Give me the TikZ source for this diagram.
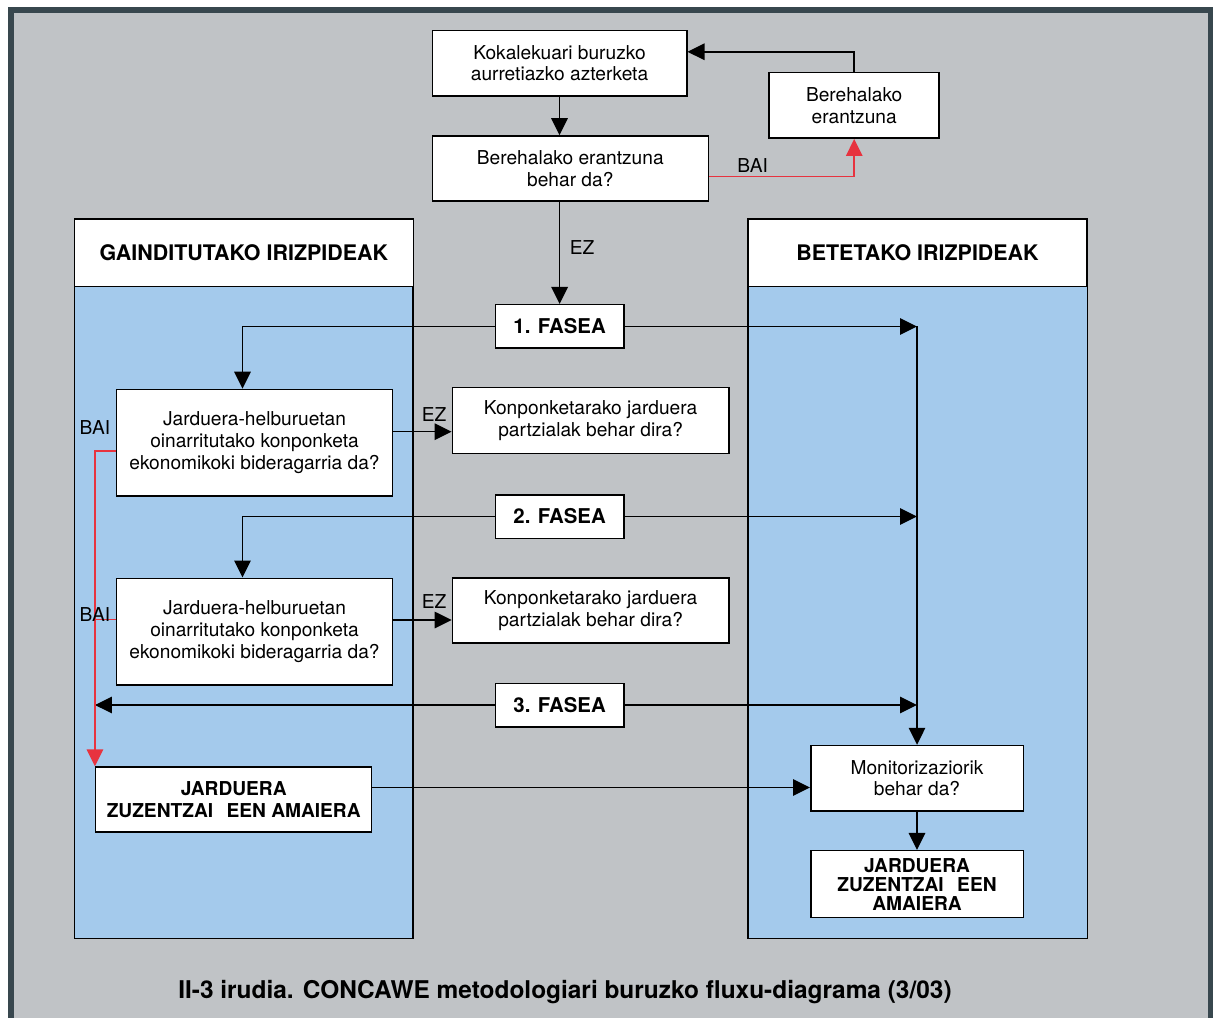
\documentclass[tikz,border=0pt]{standalone}
\usepackage{fontspec}
\setmainfont{TeX Gyre Heros}
\usetikzlibrary{arrows.meta}

\definecolor{bggray}{RGB}{192,195,198}
\definecolor{framegray}{RGB}{56,71,78}
\definecolor{laneblue}{RGB}{164,202,236}
\definecolor{yesred}{RGB}{231,51,63}

\begin{document}
\begin{tikzpicture}[
				x=0.2mm, y=-0.2mm,
				box/.style={
					draw,
					fill=white,
					line width=0.3mm,
					align=center,
					inner sep=0pt,
					font=\fontsize{10.9}{12.3}\selectfont
				},
				phase/.style={box, minimum width=25.7mm, minimum height=8.7mm,
					font=\fontsize{11.6}{13}\selectfont\bfseries},
				endbox/.style={box, font=\fontsize{10.9}{12.5}\selectfont\bfseries},
				header/.style={box, minimum width=67.8mm, minimum height=13.5mm,
					font=\fontsize{12.2}{14}\selectfont\bfseries},
				lbl/.style={text=black, inner sep=0pt, font=\fontsize{10.9}{12.3}\selectfont},
				flow/.style={line width=0.3mm, -{Triangle[length=3.4mm,width=3.3mm]}},
				redline/.style={line width=0.3mm, draw=yesred},
				yes/.style={redline, -{Triangle[length=3.4mm,width=3.3mm]}}
				]
				% sheet and frame
				\useasboundingbox (0,0) rectangle (1213,1018);
				\fill[white] (0,0) rectangle (1213,1018);
				\fill[bggray] (11,10.3) rectangle (1211,1018);
				\draw[framegray, line width=1.2mm, line join=miter] (11,1018) -- (11,10.3) -- (1211,10.3) -- (1211,1018);
				
				% the two lanes
				\draw[fill=laneblue, line width=0.3mm] (74.5,219.5) rectangle (413,938.3);
				\draw[fill=laneblue, line width=0.3mm] (747.8,219.5) rectangle (1087.3,938.3);
				\node[header] (leftHead) at (243.8,253) {GAINDITUTAKO IRIZPIDEAK};
				\node[header] (rightHead) at (917.5,253) {BETETAKO IRIZPIDEAK};
				
				\node[box, minimum width=50.9mm, minimum height=13.1mm] (kokalek) at (559.5,63.3) {Kokalekuari buruzko\\aurretiazko azterketa};
				\node[box, minimum width=34mm, minimum height=13.1mm] (berehal) at (854.2,105.5) {Berehalako\\erantzuna};
				\node[box, minimum width=55.2mm, minimum height=13mm] (galdera) at (570.3,168.5) {Berehalako erantzuna\\behar da?};
				
				\node[phase] (fase1) at (559.6,326.5) {1. FASEA};
				\node[phase] (fase2) at (559.6,516.5) {2. FASEA};
				\node[phase] (fase3) at (559.6,705) {3. FASEA};
				
				\node[box, minimum width=55.1mm, minimum height=21.3mm] (question1) at (254.5,442.7) {Jarduera-helburuetan\\oinarritutako konponketa\\ekonomikoki bideragarria da?};
				\node[box, minimum width=55.1mm, minimum height=21.3mm] (question2) at (254.5,631.5) {Jarduera-helburuetan\\oinarritutako konponketa\\ekonomikoki bideragarria da?};
				\node[box, minimum width=55.3mm, minimum height=13.2mm] (konp1) at (590.6,420.7) {Konponketarako jarduera\\partzialak behar dira?};
				\node[box, minimum width=55.3mm, minimum height=13mm] (konp2) at (590.6,610.5) {Konponketarako jarduera\\partzialak behar dira?};
				
				\node[endbox, minimum width=55.2mm, minimum height=13mm] (jardL) at (233.7,799.5) {JARDUERA\\ZUZENTZAI\hspace{0.7em}EEN AMAIERA};
				\node[box, minimum width=42.5mm, minimum height=13.1mm] (monitor) at (917,778.3) {Monitorizaziorik\\behar da?};
				\node[endbox, minimum width=42.5mm, minimum height=13.4mm,
					font=\fontsize{10.9}{10.8}\selectfont\bfseries] (jardR) at (917,884.2) {JARDUERA\\ZUZENTZAI\hspace{0.7em}EEN\\AMAIERA};
				
				\node[font=\fontsize{13.9}{16}\selectfont\bfseries, anchor=base, inner sep=0pt] (caption) at (565,998.7) {II-3 irudia. CONCAWE metodologiari buruzko fluxu-diagrama (3/03)};
				
				% top part
				\draw[flow] (kokalek.south) -- (kokalek.south |- galdera.north);
				\draw[yes] ([yshift=-1.6mm]galdera.east) -| node[lbl, pos=0.15, above=0.6mm]{BAI} (berehal.south);
				\draw[flow] (berehal.north) |- ([yshift=2.3mm]kokalek.east);
				\draw[flow] (fase1.north |- galdera.south) -- node[lbl, pos=0.45, right=1.9mm]{EZ} (fase1.north);
				
				% phases
				\draw[flow] (fase1.west) -| ([xshift=-2.4mm]question1.north);
				\draw[flow] (fase1.east) -- (fase1.east -| monitor.north);
				\draw[flow] (fase1.east -| monitor.north) -- (monitor.north);
				\draw[flow] (fase2.west) -| ([xshift=-2.4mm]question2.north);
				\draw[flow] (fase2.east) -- (fase2.east -| monitor.north);
				\draw[flow] (fase3.west) -- (fase3.west -| jardL.west);
				\draw[flow] (fase3.east) -- (fase3.east -| monitor.north);
				
				% questions
				\draw[flow] ([yshift=2.2mm]question1.east) -- node[lbl, pos=0.7, above=1.9mm]{EZ} ([yshift=2.2mm]question1.east -| konp1.west);
				\draw[flow] ([yshift=2.3mm]question2.east) -- node[lbl, pos=0.7, above=2.1mm]{EZ} ([yshift=2.3mm]question2.east -| konp2.west);
				\draw[yes] ([yshift=-1.7mm]question1.west) -| node[lbl, pos=0.5, above=3.2mm]{BAI} (jardL.north west);
				\draw[redline] ([yshift=2.4mm]question2.west) -- node[lbl, pos=1, yshift=0.9mm]{BAI} ([yshift=2.4mm]question2.west -| jardL.west);
				
				% end
				\draw[flow] ([yshift=2.4mm]jardL.east) -- ([yshift=2.4mm]jardL.east -| monitor.west);
				\draw[flow] (monitor.south) -- (jardR.north);
			\end{tikzpicture}
\end{document}
